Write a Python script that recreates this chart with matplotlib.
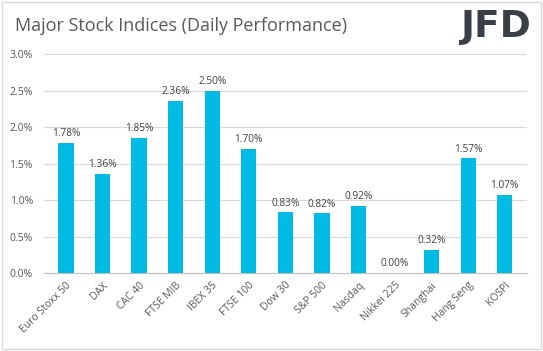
import matplotlib

matplotlib.use("Agg")
import matplotlib.pyplot as plt  # noqa: E402
from matplotlib.patches import Rectangle  # noqa: E402

indices = ["Euro Stoxx 50", "DAX", "CAC 40", "FTSE MIB", "IBEX 35", "FTSE 100",
           "Dow 30", "S&P 500", "Nasdaq", "Nikkei 225", "Shanghai", "Hang Seng", "KOSPI"]
changes = [1.78, 1.36, 1.85, 2.36, 2.50, 1.70, 0.83, 0.82, 0.92, 0.00, 0.32, 1.57, 1.07]
yticks = [0.0, 0.5, 1.0, 1.5, 2.0, 2.5, 3.0]

plt.rcParams["font.family"] = ["Open Sans", "DejaVu Sans"]

fig = plt.figure(figsize=(5.43, 3.51), dpi=100)
ax = fig.add_axes([0.081, 0.222, 0.889, 0.624])

x = range(len(indices))
ax.bar(x, changes, width=0.42, color="#00BCE4", zorder=3)
for xi, v in zip(x, changes):
    ax.text(xi, v + 0.05, f"{v:.2f}%", ha="center", va="bottom", fontsize=7.3, color="#404040")

ax.set_ylim(0, 3.0)
ax.set_xlim(-0.6, len(indices) - 0.4)
ax.set_yticks(yticks, [f"{t:.1f}%" for t in yticks])
ax.set_xticks(list(x), indices, rotation=45, ha="right", rotation_mode="anchor")
ax.tick_params(axis="both", labelsize=7.5, colors="#595959", length=0)
ax.tick_params(axis="y", pad=8)
ax.tick_params(axis="x", pad=5)
ax.grid(axis="y", color="#D9D9D9", linewidth=0.8, zorder=0)
for side in ("top", "right", "left"):
    ax.spines[side].set_visible(False)
ax.spines["bottom"].set_color("#BFBFBF")

fig.text(0.028, 0.925, "Major Stock Indices (Daily Performance)", fontsize=13,
         color="#595959", va="center", ha="left")
fig.text(0.977, 0.923, "JFD", fontsize=27, fontweight="bold", color="#3A3F47",
         va="center", ha="right", family=["DejaVu Sans"])
fig.patches.append(Rectangle((0.004, 0.006), 0.992, 0.988, transform=fig.transFigure,
                             fill=False, edgecolor="#D9D9D9", linewidth=1))

fig.savefig("out.png", dpi=100)
